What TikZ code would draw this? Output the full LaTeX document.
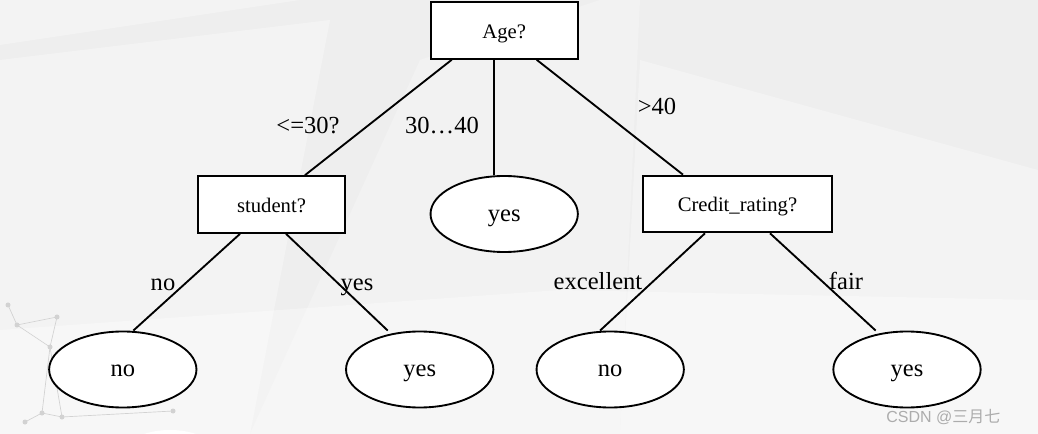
\documentclass[tikz,border=0pt]{standalone}
\usepackage{fontspec}
\setmainfont{Liberation Serif}
\newfontfamily\marksans{Liberation Sans}
\newfontfamily\markcjk{Noto Sans CJK SC}
\usepackage{tikz}
\usetikzlibrary{shapes.geometric}

\definecolor{bgbase}{RGB}{238,238,238}
\definecolor{markgray}{RGB}{172,172,172}
\definecolor{netgray}{RGB}{210,210,210}

\begin{document}
\begin{tikzpicture}[x=0.75pt,y=-0.75pt,
  test/.style={draw,line width=1.5pt,fill=white,minimum width=110pt,
    minimum height=42.5pt,inner sep=0pt,font=\fontsize{15.5}{18}\selectfont,
    text height=12.5pt,text depth=0.5pt},
  leaf/.style={ellipse,draw,line width=1.4pt,fill=white,minimum width=110.5pt,
    minimum height=57pt,inner sep=0pt,font=\fontsize{18.4}{22}\selectfont,
    text height=11.5pt,text depth=0.5pt},
  branch/.style={line width=1.4pt},
  cond/.style={anchor=base,font=\fontsize{18.4}{22}\selectfont}]
\useasboundingbox (0,0) rectangle (1038,434);

% Background
\begin{scope}
\clip (0,0) rectangle (1038,434);
\fill[bgbase] (0,0) rectangle (1038,434);
\fill[white,opacity=.3] (0,45) -- (300,0) -- (0,0) -- cycle;
\fill[white,opacity=.35] (0,60) -- (330,20) -- (250,434) -- (0,434) -- cycle;
\fill[white,opacity=.25] (250,434) -- (420,60) -- (600,0) -- (640,0) -- (620,434) -- cycle;
\fill[white,opacity=.3] (640,60) -- (1038,170) -- (1038,434) -- (620,434) -- cycle;
\fill[white,opacity=.35] (0,330) -- (560,290) -- (1038,300) -- (1038,434) -- (0,434) -- cycle;
\fill[white] (170,470) ellipse (60 and 40);
\end{scope}

% Network dots
\draw[netgray,line width=.5pt] (8,305) -- (17,325) -- (57,317) -- (50,347) -- (17,325)
  (50,347) -- (42,413) -- (62,417) -- (50,347) (42,413) -- (25,422) (62,417) -- (173,411);
\foreach \p in {(8,305),(17,325),(57,317),(50,347),(42,413),(62,417),(173,411),(25,422)}
  \fill[netgray] \p circle (2.5);

% Nodes
\node[test] (age) at (504.2,30.5) {Age?};
\node[test] (student) at (271.5,204.5) {student?};
\node[leaf] (mid) at (504.2,214) {yes};
\node[test,minimum width=142pt] (credit) at (737.5,204) {Credit\_rating?};
\node[leaf] (no1) at (122.8,369.5) {no};
\node[leaf] (yes1) at (419.7,369.5) {yes};
\node[leaf] (no2) at (610.2,369.5) {no};
\node[leaf] (yes2) at (907,369.5) {yes};

% Branches
\draw[branch] ([xshift=-39.4pt]age.south) -- ([xshift=25.1pt]student.north);
\draw[branch] ([xshift=-7.6pt]age.south) -- ([xshift=-7.6pt]mid.north);
\draw[branch] ([xshift=24.4pt]age.south) -- ([xshift=-40.9pt]credit.north);
\draw[branch] ([xshift=-23.6pt]student.south) -- ([xshift=7.9pt]no1.north);
\draw[branch] ([xshift=10.9pt]student.south) -- ([xshift=-24pt]yes1.north);
\draw[branch] ([xshift=-24.4pt]credit.south) -- ([xshift=-7.6pt]no2.north);
\draw[branch] ([xshift=24.4pt]credit.south) -- ([xshift=-23.5pt]yes2.north);

% Labels
\node[cond] (le30) at (308,134) {<=30?};
\node[cond] (mid40) at (442,134) {30…40};
\node[cond] (gt40) at (657,115) {>40};
\node[cond] (sno) at (163,290.7) {no};
\node[cond] (syes) at (357,290.7) {yes};
\node[cond] (excl) at (598,290) {excellent};
\node[cond] (fair) at (846,290) {fair};

% Watermark
\node[anchor=base west,text=markgray,inner sep=0pt,
  font=\marksans\fontsize{12}{14}\selectfont] (mark) at (886,422)
  {CSDN @{\markcjk 三月七}};
\end{tikzpicture}
\end{document}
